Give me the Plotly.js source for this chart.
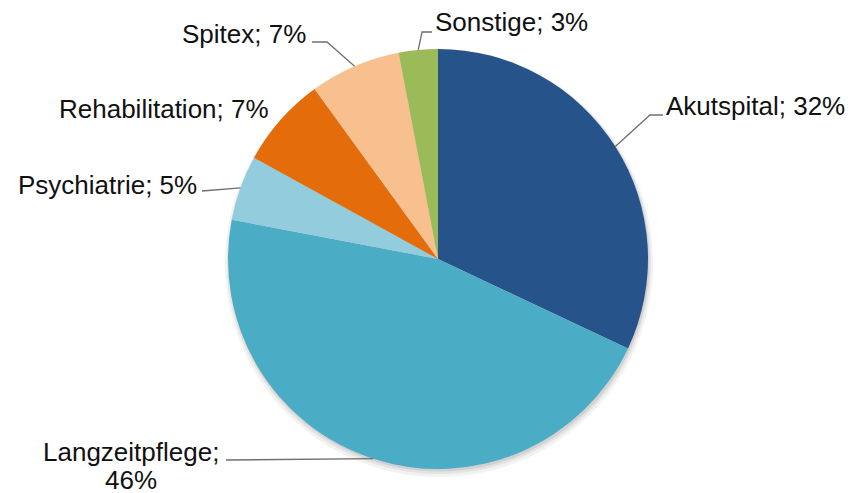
<!DOCTYPE html>
<html>
<head>
<meta charset="utf-8">
<script src="https://cdn.plot.ly/plotly-3.0.1.min.js"></script>
<style>html,body{margin:0;padding:0;background:#fff;}#chart{width:851px;height:493px;}</style>
</head>
<body>
<div id="chart"></div>
<script>
// ---- data ----
const categories = ["Akutspital", "Langzeitpflege", "Psychiatrie", "Rehabilitation", "Spitex", "Sonstige"];
const shares = [32, 46, 5, 7, 7, 3];
const labelTexts = ["Akutspital; 32%", "Langzeitpflege;<br>46%", "Psychiatrie; 5%", "Rehabilitation; 7%", "Spitex; 7%", "Sonstige; 3%"];

// ---- styles / layout ----
const colors = ["#26538a", "#4bacc6", "#93cddd", "#e46c0a", "#f9c08f", "#9bbb59"];
const W = 851, H = 493;
const cx = 438, cy = 259, R = 210;   // pie placement (pixels)
const lineGap = 28;                   // spacing of wrapped label lines (px)
// label placement: text anchor position (px), anchor side, leader elbow points (px)
const labelLayout = [
  {x: 664, y: 106, xa: "left",   pts: [[650,115],[663,115]]},
  {x: 131, y: 452, xa: "center", pts: [[226,460]]},
  {x: 199, y: 185, xa: "right",  pts: [[202,191]]},
  {x: 271, y: 109, xa: "right",  pts: null},
  {x: 308, y: 34,  xa: "right",  pts: [[327,42],[312,42]]},
  {x: 433, y: 22,  xa: "left",   pts: [[422,32],[432,32]]}
];

const px = v => v / W;
const py = v => 1 - v / H;

const total = shares.reduce((a, b) => a + b, 0);
let cum = 0;
const annotations = [];
const shapes = [];

// soft shadow below the pie
[[214, 4, 0.05], [212, 3, 0.06], [210.5, 2, 0.08]].forEach(([r, dy, op]) => {
  shapes.push({type: "circle", xref: "paper", yref: "paper", layer: "below",
    x0: px(cx - r + 1), x1: px(cx + r + 1), y0: py(cy + dy + r), y1: py(cy + dy - r),
    fillcolor: "rgba(0,0,0," + op + ")", line: {width: 0}});
});

shares.forEach((v, i) => {
  const mid = (cum + v / 2) / total * 2 * Math.PI;
  cum += v;
  const ex = cx + R * Math.sin(mid), ey = cy - R * Math.cos(mid);
  const L = labelLayout[i];
  if (L.pts) {
    let path = "M" + px(ex) + "," + py(ey);
    L.pts.forEach(p => { path += " L" + px(p[0]) + "," + py(p[1]); });
    shapes.push({type: "path", xref: "paper", yref: "paper", path: path,
      line: {color: "#6f6f6f", width: 1.3}});
  }
  labelTexts[i].split("<br>").forEach((t, k) => {
    annotations.push({text: t, xref: "paper", yref: "paper",
      x: px(L.x), y: py(L.y + k * lineGap), xanchor: L.xa, yanchor: "middle", showarrow: false,
      align: "center", font: {family: "Liberation Sans, Arial, sans-serif", size: 26, color: "#111"}});
  });
});

const trace = {
  type: "pie",
  labels: categories,
  values: shares,
  sort: false,
  direction: "clockwise",
  rotation: 0,
  textinfo: "none",
  hoverinfo: "label+percent",
  marker: {colors: colors, line: {width: 0}},
  domain: {x: [px(cx - R), px(cx + R)], y: [py(cy + R), py(cy - R)]},
  showlegend: false
};

const layout = {
  width: W, height: H,
  margin: {l: 0, r: 0, t: 0, b: 0},
  paper_bgcolor: "#fff",
  showlegend: false,
  annotations: annotations,
  shapes: shapes
};

Plotly.newPlot("chart", [trace], layout, {displayModeBar: false, staticPlot: true});
</script>
</body>
</html>
